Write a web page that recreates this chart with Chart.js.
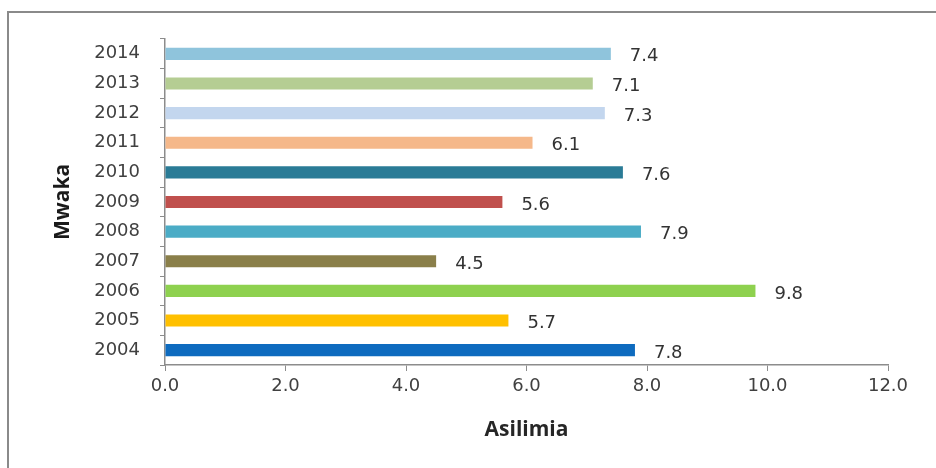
<!DOCTYPE html>
<html>
<head>
<meta charset="utf-8">
<script src="https://cdn.jsdelivr.net/npm/chart.js@4/dist/chart.umd.min.js"></script>
<style>
    html, body { margin: 0; padding: 0; background: #fff; overflow: hidden; }
    #wrap { position: relative; width: 936px; height: 468px; }
    #frame {
        position: absolute; left: 7px; top: 11px; width: 1000px; height: 600px;
        border-left: 2px solid #8a8a8a; border-top: 2px solid #8a8a8a;
    }
    #chart { position: absolute; left: 0; top: 0; }
</style>
</head>
<body>
<div id="wrap">
    <div id="frame"></div>
    <canvas id="chart" width="936" height="468"></canvas>
</div>
<script>
// Data
const years = ['2004', '2005', '2006', '2007', '2008', '2009', '2010', '2011', '2012', '2013', '2014'];
const values = [7.8, 5.7, 9.8, 4.5, 7.9, 5.6, 7.6, 6.1, 7.3, 7.1, 7.4];
const barColors = ['#0e6bbf', '#ffc000', '#8ed14f', '#8a7f4a', '#4bacc6', '#c0504d',
                   '#2a7b96', '#f5b88a', '#c3d6ee', '#b5cd93', '#8fc4dc'];
const xTicks = [0, 2, 4, 6, 8, 10, 12];

const tickFont = { family: 'DejaVu Sans', size: 18 };
const titleFont = { family: 'Open Sans', size: 21, weight: 'bold' };
const axisGray = '#8c8c8c';

// draw value next to the end of each bar
const valueLabels = {
    id: 'valueLabels',
    afterDatasetsDraw(chart) {
        const ctx = chart.ctx;
        const meta = chart.getDatasetMeta(0);
        ctx.save();
        ctx.font = '18px "DejaVu Sans"';
        ctx.fillStyle = '#333333';
        ctx.textAlign = 'left';
        ctx.textBaseline = 'middle';
        meta.data.forEach((bar, i) => {
            ctx.fillText(values[i].toFixed(1), bar.x + 19, bar.y + 3);
        });
        ctx.restore();
    }
};

new Chart(document.getElementById('chart'), {
    type: 'bar',
    data: {
        labels: years,
        datasets: [{
            data: values,
            backgroundColor: barColors,
            borderWidth: 0,
            categoryPercentage: 1,
            barPercentage: 0.41
        }]
    },
    options: {
        indexAxis: 'y',
        responsive: false,
        animation: false,
        layout: { padding: { top: 39, right: 48, bottom: 0, left: 44 } },
        plugins: { legend: { display: false }, tooltip: { enabled: false } },
        scales: {
            x: {
                min: 0,
                max: 12,
                afterBuildTicks: (s) => { s.ticks = xTicks.map(v => ({ value: v })); },
                afterFit: (s) => { s.height = 103; },
                ticks: {
                    callback: (v) => Number(v).toFixed(1),
                    font: tickFont,
                    color: '#404040',
                    padding: 5,
                    maxRotation: 0
                },
                grid: { drawOnChartArea: false, drawTicks: true, tickLength: 6, color: axisGray },
                border: { color: axisGray, width: 1.5 },
                title: {
                    display: true, text: 'Asilimia', font: titleFont, color: '#262626',
                    padding: { top: 0, bottom: 25 }
                }
            },
            y: {
                reverse: true,
                afterFit: (s) => { s.width = 121; },
                ticks: { font: tickFont, color: '#404040', padding: 20 },
                grid: { offset: true, drawOnChartArea: false, drawTicks: true, tickLength: 5, color: axisGray },
                border: { color: axisGray, width: 1.5 },
                title: {
                    display: true, text: 'Mwaka', font: titleFont, color: '#1a1a1a',
                    padding: { top: 6, bottom: 0 }
                }
            }
        }
    },
    plugins: [valueLabels]
});
</script>
</body>
</html>
